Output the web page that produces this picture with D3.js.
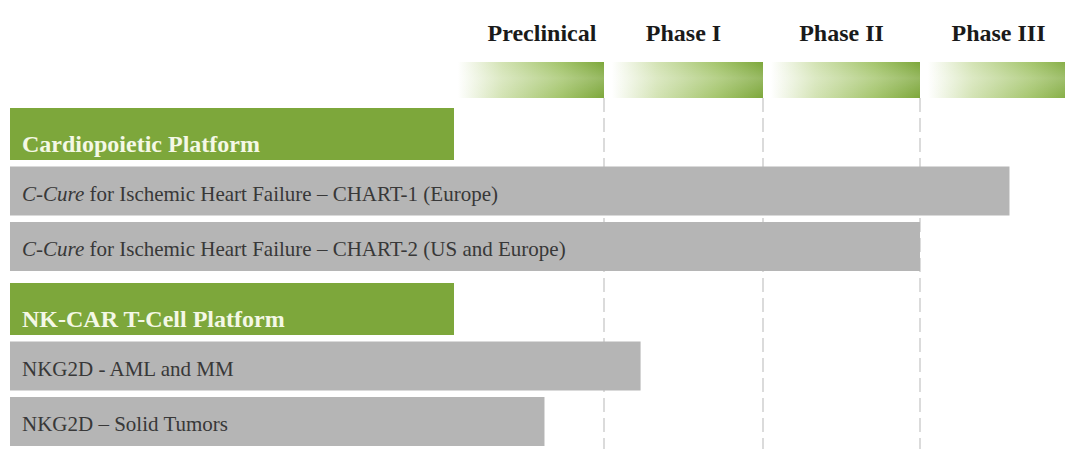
<!DOCTYPE html>
<html>
<head>
<meta charset="utf-8">
<script src="https://cdn.jsdelivr.net/npm/d3@7"></script>
<style>
  html, body { margin: 0; padding: 0; background: #fff; }
  svg { display: block; }
</style>
</head>
<body>
<svg id="chart" width="1065" height="449"></svg>
<script>
// ---- data ----
const phases = ["Preclinical", "Phase I", "Phase II", "Phase III"];
const rowLabels = [
  "Cardiopoietic Platform",
  "C-Cure for Ischemic Heart Failure \u2013 CHART-1 (Europe)",
  "C-Cure for Ischemic Heart Failure \u2013 CHART-2 (US and Europe)",
  "NK-CAR T-Cell Platform",
  "NKG2D - AML and MM",
  "NKG2D \u2013 Solid Tumors"
];
const rowTypes = ["platform", "program", "program", "platform", "program", "program"];
// progress measured in phases completed (0 = start of Preclinical, 4 = end of Phase III)
const progress = [null, 3.57, 3.0, null, 1.23, 0.52];

// ---- layout ----
const svg = d3.select("#chart");
const W = 1065, H = 449;
const left = 10, labelEnd = 454;
const green = "#7da73b";
const grayBar = "#b5b5b5";
const serif = "'Liberation Serif', 'Times New Roman', 'DejaVu Serif', serif";

const x = d3.scaleLinear().domain([0, 1, 2, 3, 4]).range([480, 604, 763, 920, 1077]);

const defs = svg.append("defs");
const grad = defs.append("linearGradient").attr("id", "hdrGrad")
  .attr("x1", "0%").attr("x2", "100%").attr("y1", "0%").attr("y2", "0%");
grad.append("stop").attr("offset", "0%").attr("stop-color", "#ffffff");
grad.append("stop").attr("offset", "30%").attr("stop-color", "#d3e3b4");
grad.append("stop").attr("offset", "70%").attr("stop-color", "#a4c56c");
grad.append("stop").attr("offset", "100%").attr("stop-color", green);
const vgrad = defs.append("linearGradient").attr("id", "hdrShade")
  .attr("x1", "0%").attr("x2", "0%").attr("y1", "0%").attr("y2", "100%");
vgrad.append("stop").attr("offset", "0%").attr("stop-color", "#ffffff").attr("stop-opacity", 0.0);
vgrad.append("stop").attr("offset", "45%").attr("stop-color", "#ffffff").attr("stop-opacity", 0.2);
vgrad.append("stop").attr("offset", "100%").attr("stop-color", "#ffffff").attr("stop-opacity", 0.0);

// header labels
svg.append("g").selectAll("text").data(phases).join("text")
  .attr("x", (d, i) => (x(i) + x(i + 1)) / 2)
  .attr("y", 41)
  .attr("text-anchor", "middle")
  .attr("font-family", serif)
  .attr("font-weight", "bold")
  .attr("font-size", 24)
  .attr("fill", "#1a1a1a")
  .text(d => d);

// header gradient bars
const hdrX0 = (i) => i === 0 ? labelEnd + 4 : x(i) + 8;
const hdr = svg.append("g");
hdr.selectAll("rect.g").data(phases).join("rect").attr("class", "g")
  .attr("x", (d, i) => hdrX0(i))
  .attr("y", 62)
  .attr("width", (d, i) => x(i + 1) - hdrX0(i))
  .attr("height", 36)
  .attr("fill", "url(#hdrGrad)");
hdr.selectAll("rect.s").data(phases).join("rect").attr("class", "s")
  .attr("x", (d, i) => hdrX0(i))
  .attr("y", 62)
  .attr("width", (d, i) => x(i + 1) - hdrX0(i))
  .attr("height", 36)
  .attr("fill", "url(#hdrShade)");

// dashed phase dividers
svg.append("g").selectAll("line").data([1, 2, 3]).join("line")
  .attr("x1", d => x(d)).attr("x2", d => x(d))
  .attr("y1", 98).attr("y2", H)
  .attr("stroke", "#cccccc")
  .attr("stroke-width", 1.4)
  .attr("stroke-dasharray", "14,6");

// row positions
const rowH = rowTypes.map(t => t === "platform" ? 52 : 49);
const rowY = [];
let yy = 108;
rowTypes.forEach((t, i) => {
  if (i > 0) yy += (t === "platform") ? 12 : 6.5;
  rowY.push(yy);
  yy += rowH[i];
});

const rows = rowLabels.map((label, i) => ({ label, type: rowTypes[i], value: progress[i], y: rowY[i], h: rowH[i] }));

const g = svg.append("g");
g.selectAll("rect").data(rows).join("rect")
  .attr("x", left)
  .attr("y", d => d.y)
  .attr("width", d => (d.type === "platform" ? labelEnd : x(d.value)) - left)
  .attr("height", d => d.h)
  .attr("fill", d => d.type === "platform" ? green : grayBar);

// labels
const lbl = g.selectAll("text").data(rows).join("text")
  .attr("x", 22)
  .attr("y", d => d.type === "platform" ? d.y + d.h - 8 : d.y + 34)
  .attr("font-family", serif)
  .attr("font-size", d => d.type === "platform" ? 24 : 21)
  .attr("font-weight", d => d.type === "platform" ? "bold" : "normal")
  .attr("fill", d => d.type === "platform" ? "#f4f8e6" : "#383838");

lbl.each(function(d) {
  const t = d3.select(this);
  if (d.label.startsWith("C-Cure")) {
    t.append("tspan").attr("font-style", "italic").text("C-Cure");
    t.append("tspan").text(d.label.slice(6));
  } else {
    t.text(d.label);
  }
});
</script>
</body>
</html>
